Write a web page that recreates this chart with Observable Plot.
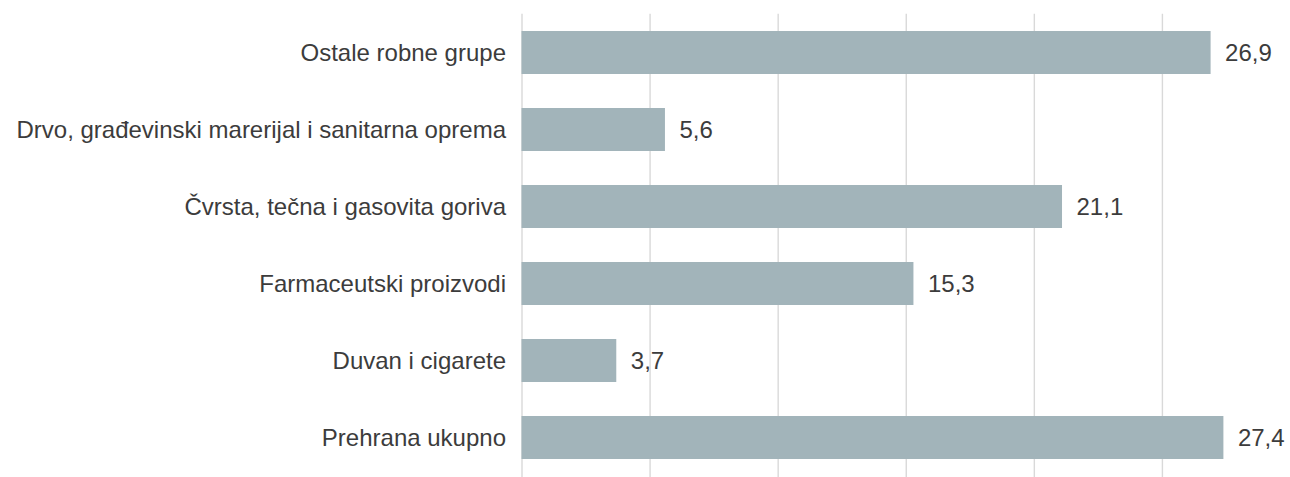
<!DOCTYPE html>
<html>
<head>
<meta charset="utf-8">
<script src="https://cdn.jsdelivr.net/npm/d3@7"></script>
<script src="https://cdn.jsdelivr.net/npm/@observablehq/plot@0.6"></script>
<style>
  html, body { margin: 0; padding: 0; background: #fff; }
  #chart svg { display: block; }
</style>
</head>
<body>
<div id="chart"></div>
<script>
const categories = [
  "Ostale robne grupe",
  "Drvo, građevinski marerijal i sanitarna oprema",
  "Čvrsta, tečna i gasovita goriva",
  "Farmaceutski proizvodi",
  "Duvan i cigarete",
  "Prehrana ukupno"
];
const values = [26.9, 5.6, 21.1, 15.3, 3.7, 27.4];
const gridTicks = [0, 5, 10, 15, 20, 25];

const data = categories.map((c, i) => ({category: c, value: values[i]}));
const fmt = v => v.toFixed(1).replace(".", ",");

const chart = Plot.plot({
  width: 1290,
  height: 477,
  marginLeft: 521.5,
  marginRight: 0,
  marginTop: 13.7,
  marginBottom: 0,
  style: {fontFamily: "Liberation Sans, Arial, sans-serif", fontSize: "24px", color: "#404040", background: "#fff"},
  x: {domain: [0, 30], axis: null},
  y: {domain: categories, paddingInner: 0.445, paddingOuter: 0.2225, label: null},
  marks: [
    Plot.ruleX(gridTicks, {stroke: "#d9d9d9", strokeWidth: 1.4}),
    Plot.barX(data, {x: "value", y: "category", fill: "#a2b4ba"}),
    Plot.text(data, {x: "value", y: "category", text: d => fmt(d.value), textAnchor: "start", dx: 14, fill: "#3c3c3c", fontSize: 24}),
    Plot.axisY({tickSize: 0, tickPadding: 16, fontSize: 24, label: null, fill: "#3c3c3c"})
  ]
});
document.getElementById("chart").appendChild(chart);
</script>
</body>
</html>
